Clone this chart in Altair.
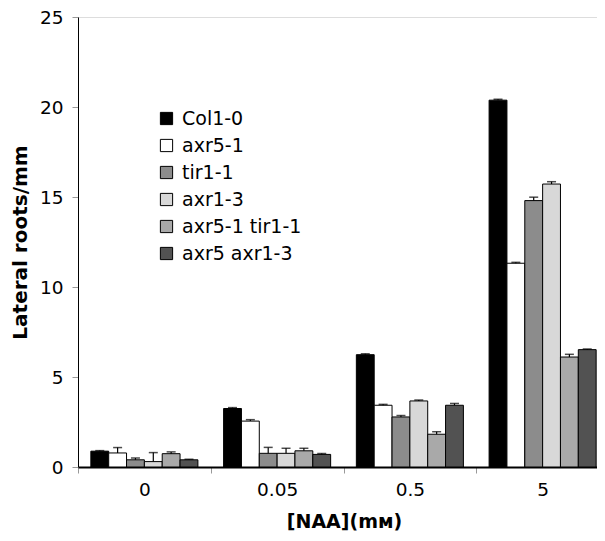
import altair as alt
import pandas as pd

concs = ["0", "0.05", "0.5", "5"]
genotypes = ["Col1-0", "axr5-1", "tir1-1", "axr1-3", "axr5-1 tir1-1", "axr5 axr1-3"]
colors = ["#000000", "#ffffff", "#8c8c8c", "#d8d8d8", "#a9a9a9", "#525252"]

values = {
    "Col1-0": [0.88, 3.25, 6.24, 20.38],
    "axr5-1": [0.78, 2.55, 3.43, 11.32],
    "tir1-1": [0.40, 0.76, 2.78, 14.80],
    "axr1-3": [0.30, 0.76, 3.67, 15.72],
    "axr5-1 tir1-1": [0.74, 0.90, 1.82, 6.11],
    "axr5 axr1-3": [0.40, 0.70, 3.43, 6.52],
}
errors = {
    "Col1-0": [0.03, 0.05, 0.05, 0.05],
    "axr5-1": [0.30, 0.08, 0.05, 0.05],
    "tir1-1": [0.10, 0.33, 0.08, 0.19],
    "axr1-3": [0.50, 0.28, 0.05, 0.13],
    "axr5-1 tir1-1": [0.10, 0.14, 0.14, 0.15],
    "axr5 axr1-3": [0.03, 0.05, 0.10, 0.04],
}

rows = []
for g in genotypes:
    for i, c in enumerate(concs):
        v = values[g][i]
        e = errors[g][i]
        rows.append({"conc": c, "genotype": g, "value": v, "top": v + e})
df = pd.DataFrame(rows)

FONT = "DejaVu Sans"

x = alt.X(
    "conc:N",
    sort=concs,
    scale=alt.Scale(paddingInner=0, paddingOuter=0, range=[0, 531]),
    axis=alt.Axis(
        title="[NAA](mм)",
        titleFont=FONT,
        titleFontSize=19,
        titleFontWeight="bold",
        titleColor="black",
        titlePadding=14,
        titleX=266,
        labelFont=FONT,
        labelFontSize=18.5,
        labelColor="black",
        labelAngle=0,
        labelPadding=7,
        tickBand="extent",
        tickColor="#999999",
        tickSize=6,
        domainColor="black",
        domainWidth=2,
    ),
)
xo = alt.XOffset(
    "genotype:N",
    sort=genotypes,
    scale=alt.Scale(paddingInner=0, paddingOuter=0.72),
)
yscale = alt.Scale(domain=[0, 25], nice=False)

bars = alt.Chart(df).mark_bar(stroke="black", strokeWidth=1).encode(
    x=x,
    xOffset=xo,
    y=alt.Y(
        "value:Q",
        scale=yscale,
        axis=alt.Axis(
            title="Lateral roots/mm",
            titleFont=FONT,
            titleFontSize=20,
            titleFontWeight="bold",
            titleColor="black",
            titlePadding=9,
            labelFont=FONT,
            labelFontSize=18.5,
            labelColor="black",
            labelPadding=9,
            values=[0, 5, 10, 15, 20, 25],
            tickColor="#999999",
            tickSize=6,
            domainColor="black",
            grid=False,
        ),
    ),
    fill=alt.Fill(
        "genotype:N",
        sort=genotypes,
        scale=alt.Scale(domain=genotypes, range=colors),
        legend=alt.Legend(
            title=None,
            orient="none",
            legendX=79,
            legendY=92,
            symbolType="square",
            symbolSize=150,
            symbolStrokeColor="black",
            symbolStrokeWidth=1,
            labelFont=FONT,
            labelFontSize=19,
            labelColor="black",
            labelOffset=6,
            rowPadding=7,
        ),
    ),
)

err = alt.Chart(df).mark_rule(color="black", strokeWidth=1.2).encode(
    x=x, xOffset=xo, y=alt.Y("value:Q", scale=yscale), y2="top:Q"
)
caps = alt.Chart(df).mark_tick(color="black", thickness=1.5, size=9).encode(
    x=x, xOffset=xo, y=alt.Y("top:Q", scale=yscale)
)

chart = (
    alt.layer(bars, err, caps)
    .properties(
        width=519,
        height=450,
        autosize=alt.AutoSizeParams(type="none"),
        padding={"left": 70, "top": 9, "right": 0, "bottom": 65},
    )
    .configure_view(stroke=None)
    .configure(background="white")
)

chart.save("out.html", embed_options={"renderer": "svg", "actions": False})
